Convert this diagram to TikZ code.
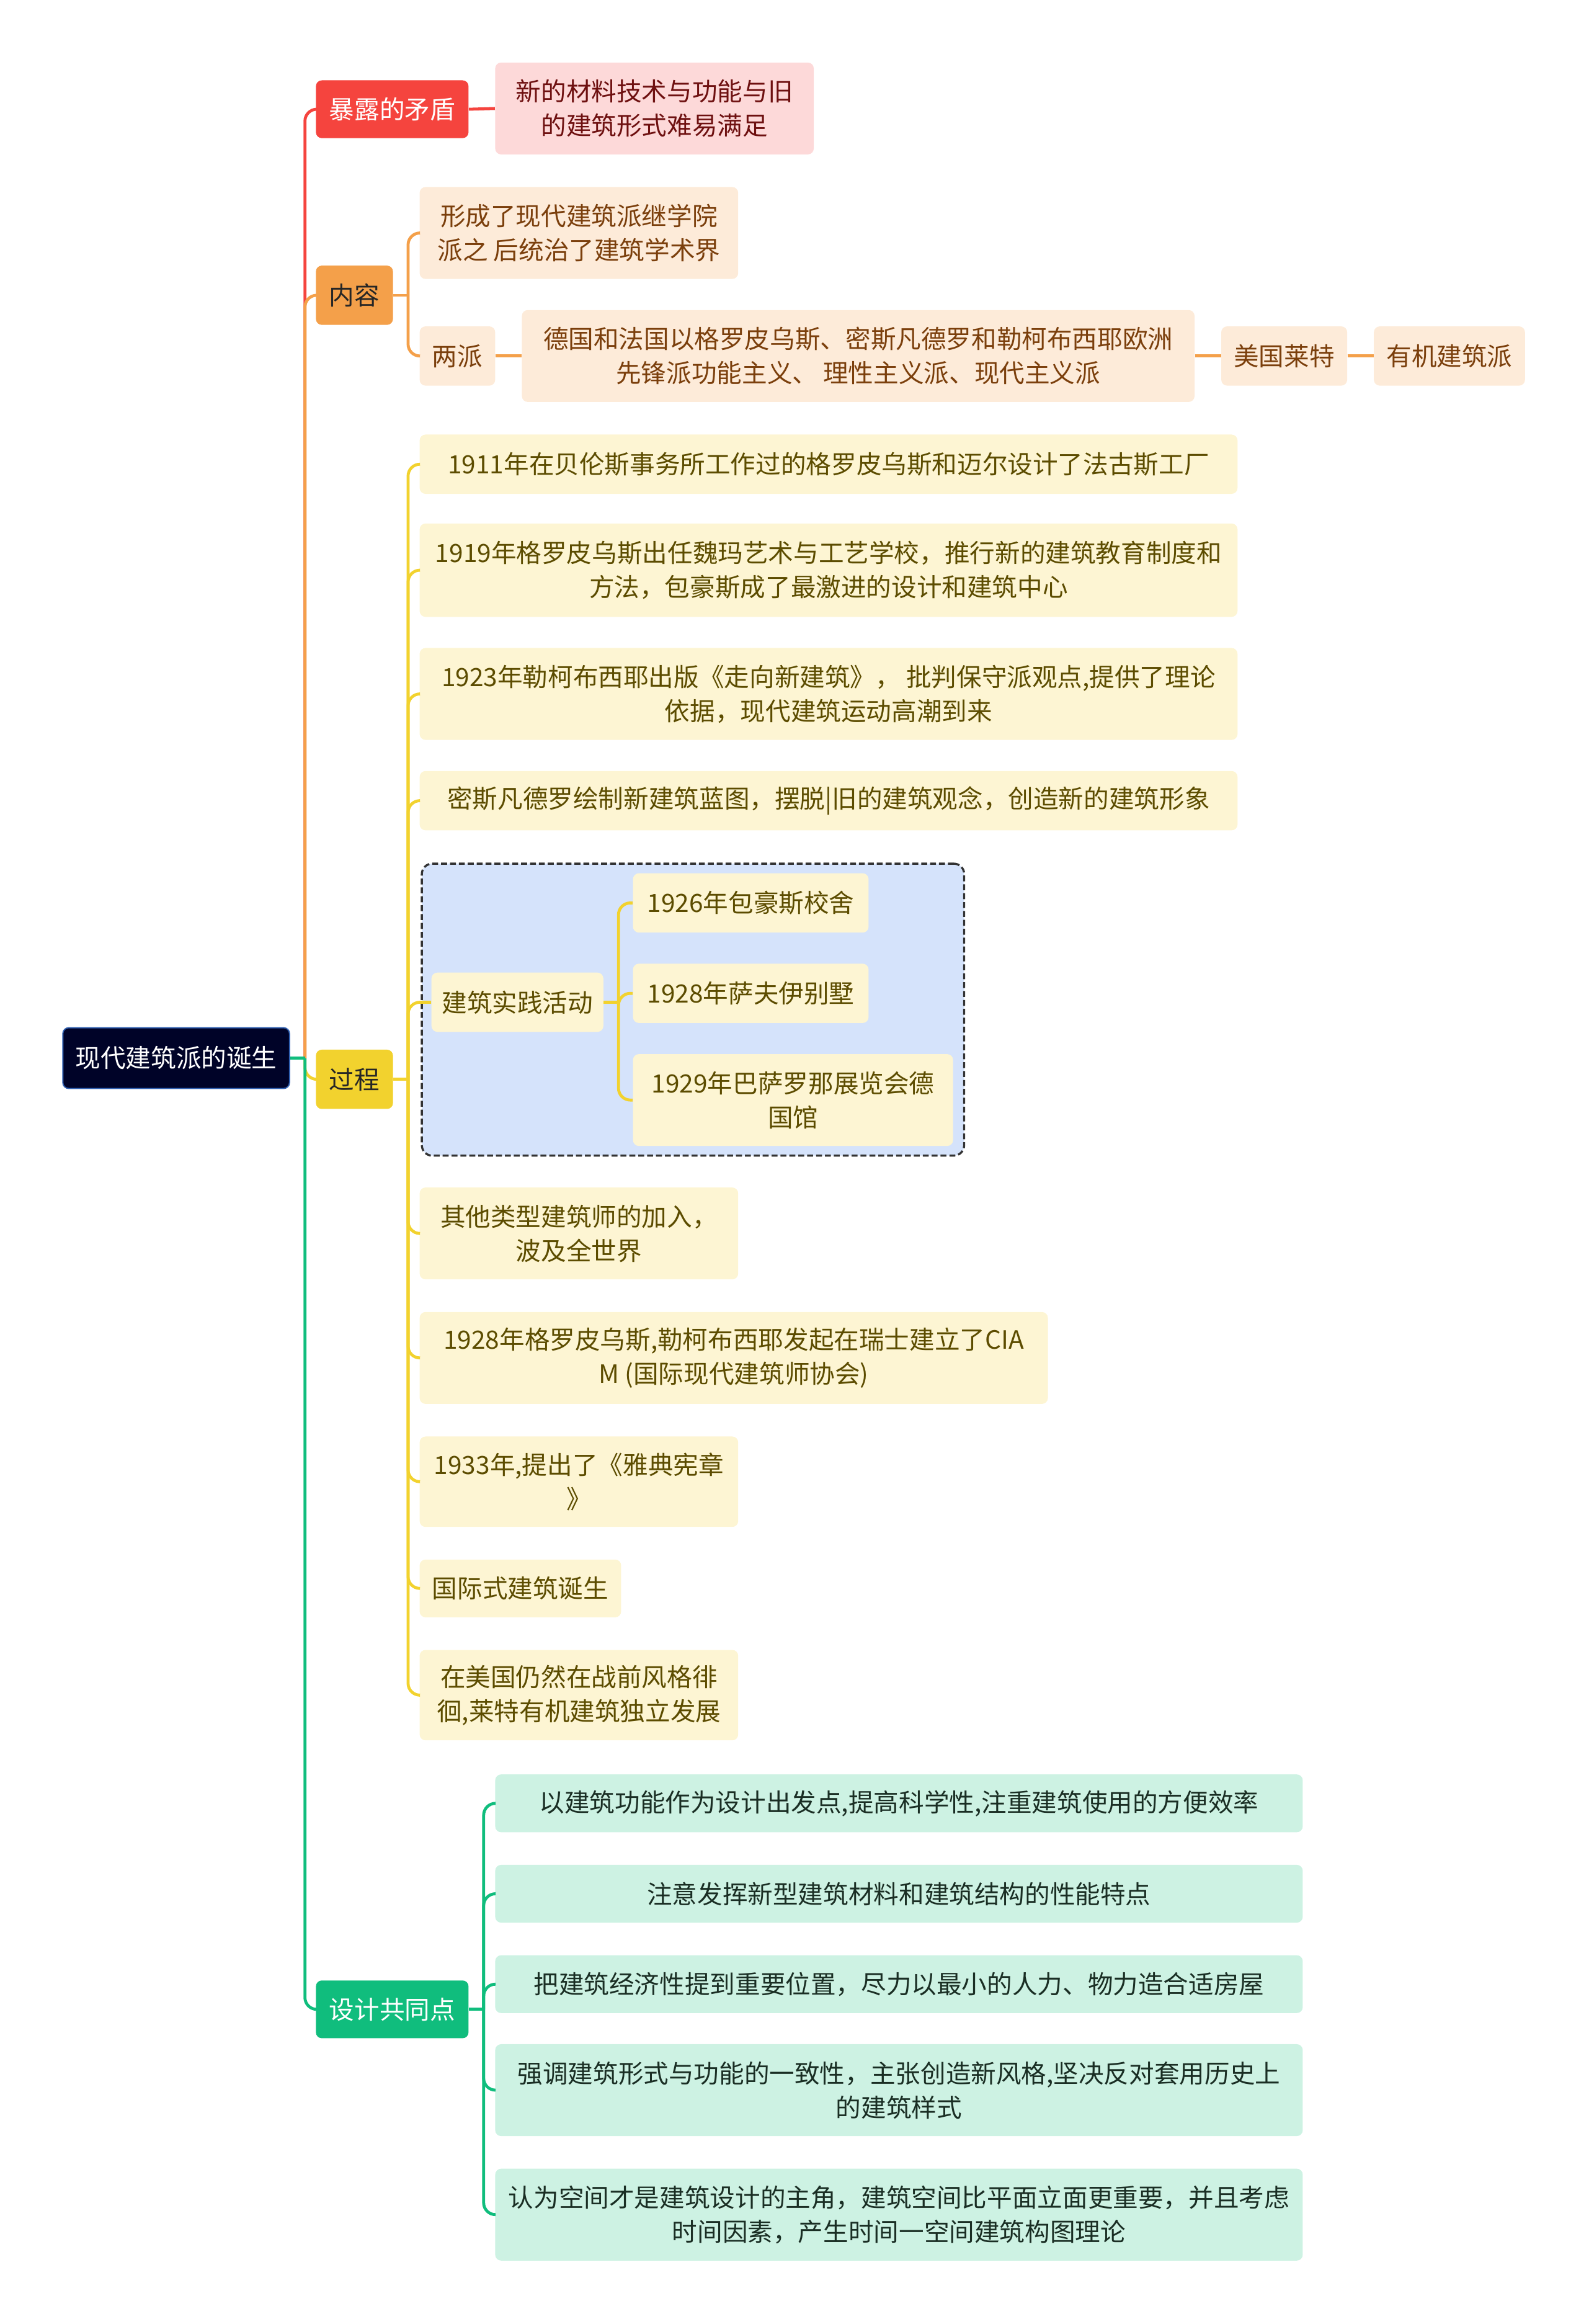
\documentclass[tikz,border=0pt]{standalone}
\usepackage{fontspec}
\setmainfont{Noto Sans CJK SC}
\definecolor{navy}{HTML}{000328}
\definecolor{navyedge}{HTML}{2F5FB0}
\definecolor{redfill}{HTML}{F5443E}
\definecolor{redlight}{HTML}{FDD9D9}
\definecolor{redtext}{HTML}{6E1010}
\definecolor{orgfill}{HTML}{F4A04A}
\definecolor{orglight}{HTML}{FDEBD9}
\definecolor{orgtext}{HTML}{7B3F0C}
\definecolor{yelfill}{HTML}{F2D22E}
\definecolor{yellight}{HTML}{FDF5D3}
\definecolor{yeltext}{HTML}{5C4C00}
\definecolor{grnfill}{HTML}{10BD7D}
\definecolor{grnlight}{HTML}{CDF2E3}
\definecolor{grntext}{HTML}{1A2E24}
\definecolor{grpfill}{HTML}{D5E3FB}

\begin{document}
\begin{tikzpicture}[x=1pt,y=-1pt,
    box/.style={rounded corners=4pt, inner sep=0pt, align=center, anchor=north west,
      font=\fontsize{17}{23}\selectfont},
    sz/.style 2 args={minimum width=#1pt, minimum height=#2pt},
    ln/.style={line width=2pt},
    redln/.style={ln, draw=redfill, rounded corners=8pt},
    orgln/.style={ln, draw=orgfill, rounded corners=8pt},
    yelln/.style={ln, draw=yelfill, rounded corners=8pt},
    grnln/.style={ln, draw=grnfill, rounded corners=8pt}]
  \useasboundingbox (0,0) rectangle (1072,1568);

  % root
  \node[box, sz={153}{41}, fill=navy, draw=navyedge, line width=0.8pt, text=white] (root) at (42,693) {现代建筑派的诞生};

  % first level
  \node[box, sz={103}{39}, fill=redfill, text=white] (bad) at (213,54) {暴露的矛盾};
  \node[box, sz={52}{40}, fill=orgfill, text=black!85] (cont) at (213,179) {内容};
  \node[box, sz={52}{40}, fill=yelfill, text=black!85] (proc) at (213,708) {过程};
  \node[box, sz={103}{39}, fill=grnfill, text=white] (des) at (213,1336) {设计共同点};

  % 暴露的矛盾
  \node[box, sz={215}{62}, fill=redlight, text=redtext] (badc) at (334,42) {新的材料技术与功能与旧\\的建筑形式难易满足};

  % 内容
  \node[box, sz={215}{62}, fill=orglight, text=orgtext] (contA) at (283,126) {形成了现代建筑派继学院\\派之 后统治了建筑学术界};
  \node[box, sz={51}{40}, fill=orglight, text=orgtext] (contB) at (283,220) {两派};
  \node[box, sz={454}{62}, fill=orglight, text=orgtext] (euro) at (352,209) {德国和法国以格罗皮乌斯、密斯凡德罗和勒柯布西耶欧洲\\先锋派功能主义、 理性主义派、现代主义派};
  \node[box, sz={85}{40}, fill=orglight, text=orgtext] (usa) at (824,220) {美国莱特};
  \node[box, sz={102}{40}, fill=orglight, text=orgtext] (organic) at (927,220) {有机建筑派};

  % 过程
  \node[box, sz={552}{40}, fill=yellight, text=yeltext] (p1) at (283,293) {1911年在贝伦斯事务所工作过的格罗皮乌斯和迈尔设计了法古斯工厂};
  \node[box, sz={552}{63}, fill=yellight, text=yeltext] (p2) at (283,353) {1919年格罗皮乌斯出任魏玛艺术与工艺学校，推行新的建筑教育制度和\\方法，包豪斯成了最激进的设计和建筑中心};
  \node[box, sz={552}{62}, fill=yellight, text=yeltext] (p3) at (283,437) {1923年勒柯布西耶出版《走向新建筑》，  批判保守派观点,提供了理论\\依据，现代建筑运动高潮到来};
  \node[box, sz={552}{40}, fill=yellight, text=yeltext] (p4) at (283,520) {密斯凡德罗绘制新建筑蓝图，摆脱|旧的建筑观念，创造新的建筑形象};
  \node[box, sz={366}{197}, fill=grpfill, draw=black!80, dash pattern=on 4pt off 2pt, line width=1.4pt, rounded corners=7pt] (grp) at (284,582) {};
  \node[box, sz={116}{40}, fill=yellight, text=yeltext] (pact) at (291,656) {建筑实践活动};
  \node[box, sz={159}{40}, fill=yellight, text=yeltext] (pa1) at (427,589) {1926年包豪斯校舍};
  \node[box, sz={159}{40}, fill=yellight, text=yeltext] (pa2) at (427,650) {1928年萨夫伊别墅};
  \node[box, sz={216}{62}, fill=yellight, text=yeltext] (pa3) at (427,711) {1929年巴萨罗那展览会德\\国馆};
  \node[box, sz={215}{62}, fill=yellight, text=yeltext] (p5) at (283,801) {其他类型建筑师的加入，\\波及全世界};
  \node[box, sz={424}{62}, fill=yellight, text=yeltext] (p6) at (283,885) {1928年格罗皮乌斯,勒柯布西耶发起在瑞士建立了CIA\\M (国际现代建筑师协会)};
  \node[box, sz={215}{61}, fill=yellight, text=yeltext] (p7) at (283,969) {1933年,提出了《雅典宪章\\》};
  \node[box, sz={136}{39}, fill=yellight, text=yeltext] (p8) at (283,1052) {国际式建筑诞生};
  \node[box, sz={215}{61}, fill=yellight, text=yeltext] (p9) at (283,1113) {在美国仍然在战前风格徘\\徊,莱特有机建筑独立发展};

  % 设计共同点
  \node[box, sz={545}{39}, fill=grnlight, text=grntext] (d1) at (334,1197) {以建筑功能作为设计出发点,提高科学性,注重建筑使用的方便效率};
  \node[box, sz={545}{39}, fill=grnlight, text=grntext] (d2) at (334,1258) {注意发挥新型建筑材料和建筑结构的性能特点};
  \node[box, sz={545}{39}, fill=grnlight, text=grntext] (d3) at (334,1319) {把建筑经济性提到重要位置，尽力以最小的人力、物力造合适房屋};
  \node[box, sz={545}{62}, fill=grnlight, text=grntext] (d4) at (334,1379) {强调建筑形式与功能的一致性，主张创造新风格,坚决反对套用历史上\\的建筑样式};
  \node[box, sz={545}{62}, fill=grnlight, text=grntext] (d5) at (334,1463) {认为空间才是建筑设计的主角，建筑空间比平面立面更重要，并且考虑\\时间因素，产生时间一空间建筑构图理论};

  % connectors
  \coordinate (hub) at ([xshift=10pt]root.east);
  \draw[redln] (hub) |- (bad.west);
  \draw[orgln] (hub) |- (cont.west);
  \draw[yelln] (hub) |- (proc.west);
  \draw[grnln] (hub) |- (des.west);
  \draw[grnln] (root.east) -- (hub);

  \draw[redln] (bad.east) -- (badc.west);

  \draw[orgln] (cont.east) -- ++(10,0) coordinate (conthub);
  \foreach \n in {contA,contB} \draw[orgln] (conthub) |- (\n.west);
  \draw[orgln] (contB.east) -- (euro.west);
  \draw[orgln] (euro.east) -- (usa.west);
  \draw[orgln] (usa.east) -- (organic.west);

  \draw[yelln] (proc.east) -- ++(10,0) coordinate (prochub);
  \foreach \n in {p1,p2,p3,p4,pact,p5,p6,p7,p8,p9} \draw[yelln] (prochub) |- (\n.west);
  \draw[yelln] (pact.east) -- ++(10,0) coordinate (acthub);
  \foreach \n in {pa1,pa2,pa3} \draw[yelln] (acthub) |- (\n.west);

  \draw[grnln] (des.east) -- ++(10,0) coordinate (deshub);
  \foreach \n in {d1,d2,d3,d4,d5} \draw[grnln] (deshub) |- (\n.west);
\end{tikzpicture}
\end{document}
